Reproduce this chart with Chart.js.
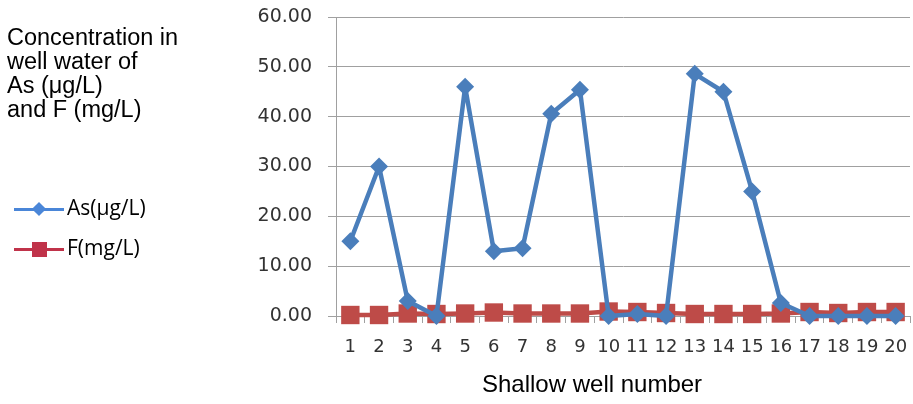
<!DOCTYPE html>
<html>
<head>
<meta charset="utf-8">
<script src="https://cdn.jsdelivr.net/npm/chart.js@4/dist/chart.umd.min.js"></script>
<style>
  html, body { margin: 0; padding: 0; background: #fff; }
  #wrap { position: relative; width: 913px; height: 404px; }
  #c { position: absolute; left: 0; top: 0; }
  .txt { position: absolute; font-family: "Liberation Sans", Arial, sans-serif; color: #000; white-space: nowrap; }
  #title { left: 7px; top: 25px; font-size: 23.5px; line-height: 24px; }
  #xtitle { left: 482px; top: 370px; font-size: 24px; line-height: 28px; }
  .leg { position: absolute; left: 14px; height: 20px; width: 170px; font-family: "Open Sans", "Liberation Sans", sans-serif; font-size: 21px; color: #000; }
  .leg .ln { position: absolute; left: 0; top: 9px; width: 50px; height: 3px; }
  .leg .mk { position: absolute; }
  .leg span { position: absolute; left: 53px; top: -6px; }
</style>
</head>
<body>
<div id="wrap">
  <canvas id="c" width="913" height="404"></canvas>
  <div class="txt" id="title">Concentration in<br>well water of<br>As (μg/L)<br>and F (mg/L)</div>
  <div class="txt" id="xtitle">Shallow well number</div>
  <div class="leg" style="top:199px;">
    <div class="ln" style="background:#4a86d8;"></div>
    <div class="mk" style="left:20px;top:5px;width:10px;height:10px;background:#4a86d8;transform:rotate(45deg);"></div>
    <span>As(μg/L)</span>
  </div>
  <div class="leg" style="top:239px;">
    <div class="ln" style="background:#c0334a;"></div>
    <div class="mk" style="left:18px;top:3px;width:15px;height:15px;background:#c0334a;"></div>
    <span>F(mg/L)</span>
  </div>
</div>
<script>
const wells = ["1","2","3","4","5","6","7","8","9","10","11","12","13","14","15","16","17","18","19","20"];
const asValues = [15, 30, 3, 0, 46, 13, 13.6, 40.6, 45.4, 0, 0.4, 0, 48.6, 45, 25, 2.6, 0, 0, 0, 0];
const fValues  = [0.2, 0.2, 0.5, 0.4, 0.5, 0.7, 0.5, 0.5, 0.5, 0.9, 0.8, 0.6, 0.4, 0.4, 0.4, 0.5, 0.8, 0.6, 0.8, 0.8];
const yTicks = { min: 0, max: 60, step: 10 };

new Chart(document.getElementById('c'), {
  type: 'line',
  data: {
    labels: wells,
    datasets: [
      {
        label: 'As(μg/L)',
        data: asValues,
        borderColor: '#4a7ebb',
        backgroundColor: '#4a7ebb',
        borderWidth: 4.5,
        borderJoinStyle: 'round',
        pointStyle: 'rectRot',
        pointRadius: 9,
        pointBorderWidth: 0,
        tension: 0,
        clip: false
      },
      {
        label: 'F(mg/L)',
        data: fValues,
        borderColor: '#be4b48',
        backgroundColor: '#be4b48',
        borderWidth: 4.5,
        pointStyle: 'rect',
        pointRadius: 13,
        pointBorderWidth: 0,
        tension: 0,
        clip: false
      }
    ]
  },
  options: {
    responsive: false,
    animation: false,
    layout: { autoPadding: false, padding: { left: 240, right: 3, top: 17, bottom: 0 } },
    plugins: { legend: { display: false }, tooltip: { enabled: false } },
    scales: {
      x: {
        offset: true,
        grid: { display: true, drawOnChartArea: false, offset: true, color: '#a0a0a0', tickLength: 7, tickColor: '#a0a0a0' },
        border: { color: '#a0a0a0' },
        ticks: { color: '#333', font: { family: 'DejaVu Sans, sans-serif', size: 18 }, padding: 14, maxRotation: 0, autoSkip: false },
        afterFit: s => { s.height = 88; s.paddingLeft = 0; s.paddingRight = 0; }
      },
      y: {
        min: yTicks.min, max: yTicks.max,
        grid: { color: '#a0a0a0', tickLength: 8, tickColor: '#a0a0a0' },
        border: { color: '#a0a0a0' },
        ticks: { stepSize: yTicks.step, color: '#333', font: { family: 'DejaVu Sans, sans-serif', size: 19 }, padding: 16, callback: v => v.toFixed(2) },
        afterFit: s => { s.width = 96; s.paddingTop = 0; s.paddingBottom = 0; }
      }
    }
  }
});
</script>
</body>
</html>
